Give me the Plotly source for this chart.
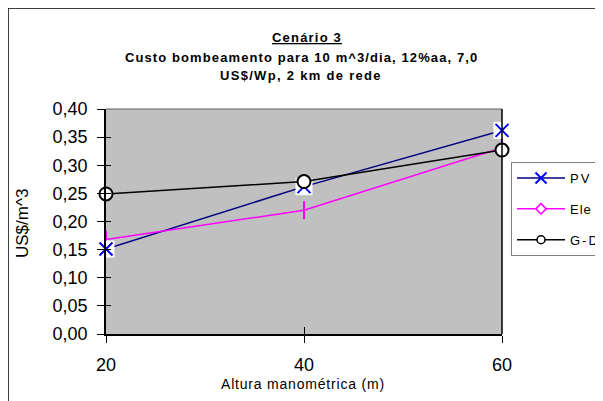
import plotly.graph_objects as go

x_vals = [20, 40, 60]
pv = [0.151, 0.262, 0.362]
ele = [0.168, 0.220, 0.331]
gd = [0.249, 0.271, 0.327]
series_names = ["PV", "Ele", "G-D"]
title_lines = ["Cenário 3", "Custo bombeamento para 10 m^3/dia, 12%aa, 7,0", "US$/Wp, 2 km de rede"]
x_title = "Altura manométrica (m)"
y_title = "US$/m^3"

FONT = "Arial, Liberation Sans, sans-serif"
OFF = 8  # page body margin
W, H = 603 - OFF, 401 - OFF
# target plot area in window pixels: x 106..502, y 109..334
L, T = 106 - OFF, 109 - OFF
pw, ph = 396, 225
R, B = W - L - pw, H - T - ph

def px(xw):
    return (xw - OFF - L) / pw

def py(yw):
    return (T + ph - (yw - OFF)) / ph

def spaced(s, sp):
    return "<span style='letter-spacing:%spx'>%s</span>" % (sp, s)

fig = go.Figure()

# invisible trace carrying the overlay axes used for inner tick halves
fig.add_trace(go.Scatter(x=[None], y=[None], xaxis="x2", yaxis="y2", showlegend=False, hoverinfo="skip"))

# data traces
fig.add_trace(go.Scatter(x=x_vals, y=pv, mode="lines", line=dict(color="#000080", width=1.5),
                         showlegend=False, hoverinfo="skip"))
fig.add_trace(go.Scatter(x=x_vals, y=ele, mode="lines+markers", line=dict(color="#FF00FF", width=1.5),
                         marker=dict(symbol="line-ns", size=13, line=dict(color="#FF00FF", width=2)),
                         showlegend=False, cliponaxis=False))
fig.add_trace(go.Scatter(x=x_vals, y=pv, mode="markers",
                         marker=dict(symbol="square", size=17, color="white", line=dict(width=0)),
                         showlegend=False, cliponaxis=False, hoverinfo="skip"))
fig.add_trace(go.Scatter(x=x_vals, y=pv, mode="markers",
                         marker=dict(symbol="x-thin", size=13, line=dict(color="#0000FF", width=2)),
                         showlegend=False, cliponaxis=False))
fig.add_trace(go.Scatter(x=x_vals, y=gd, mode="lines+markers", line=dict(color="black", width=1.5),
                         marker=dict(symbol="circle", size=13, color="white", line=dict(color="black", width=2)),
                         showlegend=False, cliponaxis=False))

# legend-only traces
fig.add_trace(go.Scatter(x=[None], y=[None], mode="lines+markers", name=spaced(series_names[0], 2),
                         line=dict(color="#000080", width=1.5),
                         marker=dict(symbol="x-thin", size=11, color="#0000FF", line=dict(color="#0000FF", width=2)),
                         legendgroup="a"))
fig.add_trace(go.Scatter(x=[None], y=[None], mode="lines+markers", name=spaced(series_names[1], 1),
                         line=dict(color="#FF00FF", width=1.5),
                         marker=dict(symbol="diamond", size=8, color="white", line=dict(color="#FF00FF", width=1.5)),
                         legendgroup="b"))
fig.add_trace(go.Scatter(x=[None], y=[None], mode="lines+markers", name=spaced(series_names[2], 2),
                         line=dict(color="black", width=1.5),
                         marker=dict(symbol="circle", size=8, color="white", line=dict(color="black", width=1.5)),
                         legendgroup="c"))

fig.update_layout(
    width=W, height=H,
    margin=dict(l=L, r=R, t=T, b=B, autoexpand=False),
    paper_bgcolor="white", plot_bgcolor="#C0C0C0",
    separators=",.",
    font=dict(family=FONT, color="black"),
    showlegend=True,
    legend=dict(x=px(511), y=py(162), xanchor="left", yanchor="top",
                bgcolor="white", bordercolor="#808080", borderwidth=1,
                font=dict(size=13, family=FONT), tracegroupgap=11,
                itemwidth=48),
    xaxis=dict(range=[20, 60], tickvals=x_vals, showgrid=False, zeroline=False,
               showline=True, linecolor="black", linewidth=2, mirror=False,
               ticks="outside", ticklen=7, tickcolor="black", tickwidth=1,
               tickfont=dict(size=18, family=FONT), ticklabelstandoff=6),
    yaxis=dict(range=[0, 0.4], dtick=0.05, tickformat=".2f", showgrid=False, zeroline=False,
               showline=True, linecolor="black", linewidth=1.5, mirror=False,
               ticks="outside", ticklen=7, tickcolor="black", tickwidth=1,
               tickfont=dict(size=18, family=FONT), ticklabelstandoff=6),
    xaxis2=dict(overlaying="x", matches="x", range=[20, 60], tickvals=x_vals, showgrid=False,
                zeroline=False, showline=False, ticks="inside", ticklen=7, tickcolor="black",
                tickwidth=1, showticklabels=False, side="bottom"),
    yaxis2=dict(overlaying="y", matches="y", range=[0, 0.4], dtick=0.05, showgrid=False,
                zeroline=False, showline=False, ticks="inside", ticklen=5, tickcolor="black",
                tickwidth=1, showticklabels=False, side="left"),
)

shapes = [
    dict(type="line", xref="paper", yref="paper", x0=0, x1=1, y0=1, y1=1, line=dict(color="#606060", width=1), layer="above"),
    dict(type="line", xref="paper", yref="paper", x0=1, x1=1, y0=0, y1=1, line=dict(color="black", width=1.5), layer="above"),
    dict(type="rect", xref="paper", yref="paper", x0=px(8), x1=px(640), y0=py(440), y1=py(8),
         line=dict(color="black", width=1.5), fillcolor="rgba(0,0,0,0)", layer="above"),
]
fig.update_layout(shapes=shapes)

annotations = [
    dict(text="<span style='text-decoration:underline;letter-spacing:1.2px'><b>" + title_lines[0] + "</b></span>",
         x=px(307), y=py(38), xref="paper", yref="paper", showarrow=False,
         font=dict(size=13, family=FONT), xanchor="center", yanchor="middle"),
    dict(text="<b>" + spaced(title_lines[1], 1.1) + "</b>", x=px(301), y=py(57), xref="paper", yref="paper",
         showarrow=False, font=dict(size=13, family=FONT), xanchor="center", yanchor="middle"),
    dict(text="<b>" + spaced(title_lines[2], 1.3) + "</b>", x=px(301), y=py(76), xref="paper", yref="paper",
         showarrow=False, font=dict(size=13, family=FONT), xanchor="center", yanchor="middle"),
    dict(text=spaced(x_title, 0.8), x=px(303), y=py(384), xref="paper", yref="paper", showarrow=False,
         font=dict(size=14, family=FONT), xanchor="center", yanchor="middle"),
    dict(text=y_title, x=px(22), y=py(224), xref="paper", yref="paper", showarrow=False, textangle=-90,
         font=dict(size=17, family=FONT), xanchor="center", yanchor="middle"),
]
fig.update_layout(annotations=annotations)

fig.write_html("out.html")
